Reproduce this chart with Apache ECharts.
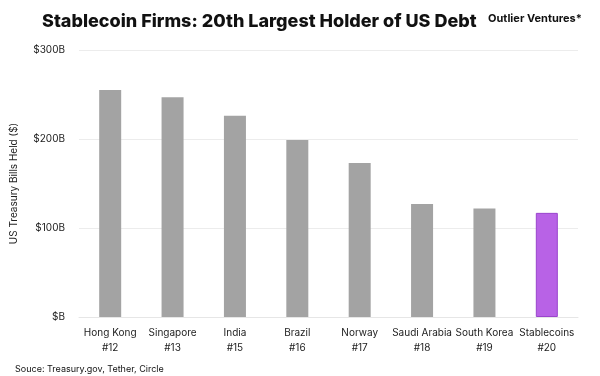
<!DOCTYPE html>
<html>
<head>
<meta charset="utf-8">
<script src="https://cdn.jsdelivr.net/npm/echarts@6/dist/echarts.min.js"></script>
<style>
	html, body { margin: 0; padding: 0; background: #fff; }
	#chart { width: 600px; height: 376px; }
</style>
</head>
<body>
<div id="chart"></div>
<script>
var holders = ['Hong Kong', 'Singapore', 'India', 'Brazil', 'Norway', 'Saudi Arabia', 'South Korea', 'Stablecoins'];
var ranks = ['#12', '#13', '#15', '#16', '#17', '#18', '#19', '#20'];
var billsHeld = [255, 247, 226, 199, 173, 127, 122, 117];

var myChart = echarts.init(document.getElementById('chart'));
var font = 'Inter, "Noto Sans", sans-serif';

var barData = billsHeld.map(function (v, i) {
	if (holders[i] === 'Stablecoins') {
		return { value: v, itemStyle: { color: '#b862e6', borderColor: '#9a45cc', borderWidth: 1 } };
	}
	return v;
});

var option = {
	backgroundColor: '#fff',
	textStyle: { fontFamily: font },
	title: [
		{
			text: 'Stablecoin Firms: 20th Largest Holder of US Debt',
			left: 37, top: 8,
			textStyle: { fontFamily: font, fontSize: 18, fontWeight: 800, color: '#111' }
		},
		{
			text: 'Outlier Ventures*',
			left: 483, top: 8,
			textStyle: { fontFamily: font, fontSize: 11, fontWeight: 700, color: '#111' }
		},
		{
			text: 'Souce: Treasury.gov, Tether, Circle',
			left: 10, top: 360,
			textStyle: { fontFamily: font, fontSize: 9, fontWeight: 400, color: '#111' }
		}
	],
	grid: { left: 79, right: 22, top: 50, bottom: 59 },
	xAxis: {
		type: 'category',
		data: holders,
		axisLine: { lineStyle: { color: '#e6e6e6' } },
		axisTick: { show: false },
		axisLabel: {
			interval: 0,
			color: '#222',
			fontSize: 10,
			lineHeight: 15,
			margin: 8,
			formatter: function (val, i) { return val + '\n' + ranks[i]; }
		}
	},
	yAxis: {
		type: 'value',
		min: 0, max: 300, interval: 100,
		name: 'US Treasury Bills Held ($)',
		nameLocation: 'middle',
		nameGap: 60,
		nameTextStyle: { color: '#222', fontSize: 10 },
		axisLine: { show: false },
		axisTick: { show: false },
		axisLabel: {
			color: '#222', fontSize: 10, margin: 14,
			formatter: function (v) { return '$' + (v === 0 ? '' : v) + 'B'; }
		},
		splitLine: { lineStyle: { color: '#ececec' } }
	},
	series: [{
		type: 'bar',
		data: barData,
		barWidth: 22,
		itemStyle: { color: '#a3a3a3' }
	}]
};

myChart.setOption(option);
</script>
</body>
</html>
